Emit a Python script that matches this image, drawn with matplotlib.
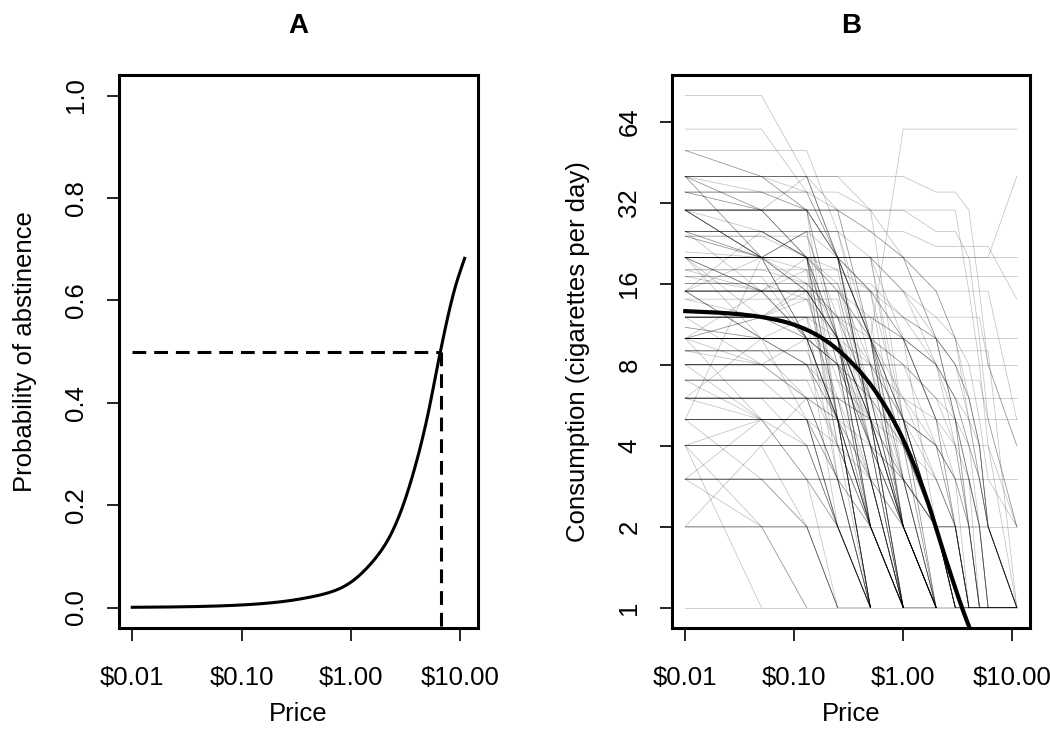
import matplotlib
matplotlib.use("Agg")
import matplotlib.pyplot as plt
import numpy as np

plt.rcParams['font.family'] = ['Liberation Sans', 'DejaVu Sans']

# panel A: probability of abstinence at log10(price)
logprice_a = [-2.0, -1.0, -0.456, -0.092, 0.155, 0.369, 0.553, 0.707, 0.805, 0.954, 1.041]
prob_a = [0.0005, 0.005, 0.017, 0.038, 0.079, 0.144, 0.249, 0.379, 0.485, 0.625, 0.682]
p50_price = 6.74

# panel B: fitted demand curve
price_fit = [0.01, 0.0178, 0.0316, 0.0562, 0.1, 0.178, 0.316, 0.562, 1.0, 1.585,
             2.512, 3.548, 4.467]
q_fit = [12.64, 12.51, 12.3, 11.92, 11.24, 10.06, 8.34, 6.32, 4.2, 2.64, 1.47,
         0.97, 0.76]

# purchase-task prices and individual responses (missing tail = 0, not drawn on log axis)
prices = [0.01, 0.05, 0.13, 0.25, 0.5, 1, 2, 3, 4, 5, 6, 11]
responses = [
    [80, 80, 40, 20, 10, 5, 2, 1],
    [60, 60, 35, 20, 10, 4, 2, 1],
    [50, 50, 50, 25, 10, 5, 2, 1],
    [40, 40, 40, 40, 40, 40, 35, 35, 30, 15, 8, 4],
    [35, 35, 35, 35, 30, 30, 25, 25, 20, 10, 5, 2],
    [30, 30, 30, 30, 30, 30, 30, 30, 15, 8, 4, 2],
    [25, 25, 25, 25, 25, 25, 22, 22, 22, 22, 22, 14],
    [20, 20, 20, 15, 10, 60, 60, 60, 60, 60, 60, 60],
    [30, 25, 20, 20, 20, 20, 20, 20, 20, 20, 20, 40],
    [20, 20, 20, 20, 20, 20, 20, 20, 20, 20, 20, 20],
    [17, 17, 17, 17, 17, 17, 17, 17, 17, 17, 17, 17],
    [15, 15, 15, 15, 15, 15, 15, 15, 15, 15, 15, 5],
    [12, 12, 12, 12, 12, 12, 12, 12, 12, 12, 8, 4],
    [10, 10, 10, 10, 10, 10, 10, 10, 10, 10, 10, 10],
    [8, 8, 8, 8, 8, 8, 8, 8, 8, 8, 8, 8],
    [5, 5, 5, 5, 5, 5, 5, 5, 5, 5, 5, 5],
    [3, 3, 3, 3, 3, 3, 3, 3, 3, 3, 3, 3],
    [2, 2, 2, 2, 2, 2, 2, 2, 2, 2, 2, 2],
    [1, 1, 1, 1, 1, 1, 1, 1, 1, 1, 1, 1],
    [4, 4, 4, 4, 4, 4, 4, 4, 4, 4, 4, 1],
    [6, 6, 6, 6, 6, 6, 6, 6, 6, 6, 6, 6],
    [9, 9, 9, 9, 9, 9, 9, 9, 9, 9, 9, 1],
    [7, 7, 7, 7, 7, 7, 7, 7, 7, 7, 5, 2],
    # steep drops between $0.13 and $1
    [50, 40, 40, 20, 5, 2],
    [40, 40, 40, 20, 5, 1],
    [40, 40, 30, 10, 2, 1],
    [40, 20, 20, 5, 1],
    [35, 35, 30, 30, 10, 2, 1],
    [35, 30, 20, 5, 1],
    [30, 30, 30, 20, 5, 1],
    [30, 30, 30, 10, 3, 1],
    [30, 20, 20, 20, 10, 2],
    [30, 30, 20, 20, 20, 5, 1],
    [25, 25, 25, 10, 5, 1],
    [25, 25, 20, 20, 5, 2, 1],
    [25, 20, 10, 10, 2],
    [24, 24, 24, 12, 4, 1],
    [20, 20, 20, 20, 5, 1],
    [20, 20, 20, 10, 2],
    [20, 20, 20, 5, 1],
    [20, 20, 10, 5, 1],
    [20, 15, 15, 15, 5, 2, 1],
    [20, 20, 20, 20, 20, 10, 2, 1],
    [20, 20, 20, 10, 10, 3, 1],
    [18, 18, 18, 10, 3, 1],
    [18, 15, 15, 5, 2],
    [17, 17, 10, 10, 5, 1],
    [16, 16, 16, 16, 8, 2, 1],
    [15, 15, 15, 10, 2, 1],
    [15, 15, 15, 15, 5, 1],
    [15, 15, 10, 5, 1],
    [15, 15, 15, 10, 10, 5, 2, 1],
    [15, 10, 10, 10, 3, 1],
    [14, 14, 14, 7, 3, 1],
    [12, 12, 12, 10, 3, 1],
    [12, 12, 12, 6, 2],
    [12, 12, 10, 5, 2, 1],
    [12, 12, 12, 12, 6, 2, 1],
    [11, 10, 10, 5, 2],
    [10, 10, 10, 10, 3, 1],
    [10, 10, 10, 5, 1],
    [10, 10, 10, 10, 10, 4, 1],
    [10, 10, 8, 5, 2, 1],
    [10, 10, 5, 2, 1],
    [10, 10, 10, 8, 4, 2, 1, 1],
    [9, 9, 9, 5, 2, 1],
    [9, 9, 6, 3, 1],
    [8, 8, 8, 8, 4, 1],
    [8, 8, 8, 4, 2, 1],
    [8, 8, 6, 3, 1],
    [8, 8, 8, 8, 8, 3, 1],
    [7, 7, 7, 4, 2, 1],
    [7, 7, 5, 2, 1],
    [6, 6, 6, 3, 1],
    [6, 6, 6, 6, 3, 1],
    [6, 6, 4, 2, 1],
    [5, 5, 5, 5, 2, 1],
    [5, 5, 5, 2, 1],
    [5, 5, 3, 1],
    [5, 5, 5, 5, 5, 2, 1],
    [4, 4, 4, 2, 1],
    [4, 4, 4, 4, 2, 1, 1],
    [4, 4, 2, 1],
    [3, 3, 3, 3, 1],
    [3, 3, 2, 1],
    [3, 3, 3, 2, 2, 1],
    [2, 2, 2, 2, 1],
    [2, 2, 1],
    [30, 30, 30, 5, 1],
    [30, 20, 25, 5, 1],
    [15, 25, 20, 3, 1],
    [20, 12, 16, 4],
    [30, 30, 20, 8, 2, 1],
    [25, 15, 20, 8, 2],
    [10, 15, 18, 4, 1],
    [15, 10, 12, 3],
    [10, 10, 10, 2],
    [30, 20, 25, 25, 8, 2, 1],
    [15, 20, 25, 20, 6, 2],
    [24, 20, 18, 18, 5],
    [10, 12, 14, 14, 4, 1],
    [12, 8, 10, 10, 4, 1],
    [6, 10, 8, 8, 2],
    [6, 6, 6, 6, 2, 1],
    [40, 30, 30, 30, 30, 5, 1],
    [20, 20, 20, 20, 20, 4, 1],
    [20, 15, 15, 15, 15, 3, 1],
    [10, 12, 15, 12, 12, 2],
    [10, 10, 10, 10, 10, 2, 1],
    [25, 20, 20, 20, 15, 5, 2, 1],
    [35, 35, 35, 20, 10, 3, 1],
    [40, 40, 40, 30, 10, 2],
    [16, 16, 14, 10, 4, 2, 1],
    [12, 12, 11, 8, 4, 2, 1],
    [9, 9, 9, 9, 4, 2, 1],
    [7, 7, 7, 7, 5, 2, 1],
    [18, 18, 16, 12, 6, 2, 1],
    [24, 24, 20, 16, 6, 2],
    # slower declines reaching low values past $1
    [20, 20, 20, 20, 20, 20, 10, 5, 2, 1],
    [15, 15, 15, 15, 15, 15, 10, 5, 3, 1, 1],
    [12, 12, 12, 12, 12, 10, 5, 2, 1],
    [10, 10, 10, 10, 10, 10, 5, 3, 1, 1, 1],
    [10, 10, 10, 10, 10, 8, 4, 2, 1],
    [8, 8, 8, 8, 8, 8, 6, 4, 2, 1, 1, 1],
    [6, 6, 6, 6, 6, 6, 4, 2, 1],
    [20, 20, 20, 20, 15, 10, 5, 2, 1, 1, 1, 1],
    [25, 25, 25, 25, 20, 15, 8, 4, 2, 1],
    [30, 30, 30, 30, 25, 20, 10, 5, 3, 2, 1, 1],
    [16, 16, 16, 16, 16, 12, 8, 5, 3, 2, 1],
    [12, 12, 12, 12, 10, 10, 8, 6, 4, 2, 1, 1],
    [5, 5, 5, 5, 5, 5, 4, 3, 2, 1, 1],
    [4, 4, 4, 4, 4, 3, 2, 2, 1, 1, 1, 1],
    [3, 3, 3, 3, 3, 3, 2, 2, 2, 1, 1, 1],
    [20, 20, 20, 18, 15, 12, 10, 8, 6, 4, 2, 1],
    [15, 15, 15, 15, 12, 10, 8, 6, 4, 3, 2, 1],
    [10, 10, 10, 10, 10, 8, 6, 5, 4, 3, 2, 1],
    [8, 8, 8, 8, 8, 6, 5, 4, 3, 2, 1, 1],
    [6, 6, 6, 6, 5, 5, 4, 3, 3, 2, 2, 1],
    [40, 40, 35, 30, 25, 20, 15, 10, 6, 4, 2, 1],
    [25, 25, 20, 20, 20, 15, 12, 10, 8, 5, 3, 2],
    [12, 12, 12, 12, 12, 12, 10, 8, 6, 4, 2, 1],
    [10, 10, 10, 10, 10, 10, 10, 8, 5, 3, 2, 1],
    # fanning from the left edge
    [50, 40, 30, 20, 10, 6, 3, 2, 1],
    [40, 30, 40, 40, 30, 20, 15, 10, 5, 3, 2, 1],
    [40, 35, 30, 20, 15, 10, 8, 6, 5, 4, 2, 1],
    [40, 20, 20, 10, 5, 2, 1],
    [30, 20, 20, 15, 10, 10, 5, 5, 2, 1],
    [24, 20, 15, 10, 8, 5, 3, 2, 1, 1, 1, 1],
    [20, 15, 10, 10, 5, 5, 2, 2, 1, 1],
    [20, 10, 10, 5, 3, 1],
    [17, 15, 10, 8, 6, 4, 2, 1, 1],
    [15, 10, 10, 10, 5, 5, 4, 3, 2, 2, 1, 1],
    [11, 10, 8, 6, 5, 4, 3, 2, 1, 1],
    [10, 8, 6, 5, 4, 3, 2, 1, 1, 1],
    [10, 5, 5, 2, 1],
    [9, 8, 8, 5, 5, 3, 2, 1, 1],
    [8, 5, 4, 2, 1],
    [7, 5, 5, 3, 2, 1, 1],
    [6, 5, 3, 2, 1],
    [5, 3, 2, 1],
    [4, 2, 2, 1, 1],
    [3, 5, 5, 3, 2, 1],
    [2, 4, 6, 5, 3, 2, 1],
    [5, 20, 15, 10, 5, 2, 1],
    [4, 5, 5, 4, 3, 2, 1],
    [3, 2, 1],
    [4, 1],
    [20, 20, 10, 8, 5, 3, 2, 1, 1, 1, 1, 1],
    [30, 20, 15, 10, 6, 3, 1],
    [21, 20, 16, 12, 8, 5, 2, 1],
    [35, 30, 30, 20, 10, 5, 2],
    [14, 12, 10, 8, 6, 4, 2, 1],
]

x_ticks = [0.01, 0.1, 1, 10]
x_ticklabels = ['$0.01', '$0.10', '$1.00', '$10.00']
y_ticks_a = [0, 0.2, 0.4, 0.6, 0.8, 1.0]
y_ticks_b = [1, 2, 4, 8, 16, 32, 64]

fs = 18.5
# R-style 4% extension on log axes
lx0, lx1 = np.log10(0.01), np.log10(11)
ext = 0.04 * (lx1 - lx0)
xlim = (10 ** (lx0 - ext), 10 ** (lx1 + ext))
ly1 = np.log2(80)
ylim_b = (2 ** (-0.04 * ly1), 2 ** (ly1 * 1.04))


def smooth(x, y, n=300):
    # cubic Hermite through the read points
    x = np.asarray(x, float)
    y = np.asarray(y, float)
    m = np.gradient(y, x)
    xs = np.linspace(x[0], x[-1], n)
    i = np.clip(np.searchsorted(x, xs) - 1, 0, len(x) - 2)
    h = x[i + 1] - x[i]
    t = (xs - x[i]) / h
    h00 = 2 * t**3 - 3 * t**2 + 1
    h10 = t**3 - 2 * t**2 + t
    h01 = -2 * t**3 + 3 * t**2
    h11 = t**3 - t**2
    ys = h00 * y[i] + h10 * h * m[i] + h01 * y[i + 1] + h11 * h * m[i + 1]
    return xs, ys


def style_axes(ax):
    for s in ax.spines.values():
        s.set_linewidth(2.2)
    ax.tick_params(axis='both', length=9, width=1.2, labelsize=fs)
    ax.tick_params(axis='x', pad=18)
    ax.tick_params(axis='y', pad=13)
    ax.set_xscale('log')
    ax.set_xlim(xlim)
    ax.set_xticks(x_ticks)
    ax.set_xticklabels(x_ticklabels)
    ax.minorticks_off()
    ax.set_xlabel('Price', fontsize=fs, labelpad=9)
    for lab in ax.get_yticklabels():
        lab.set_rotation(90)
        lab.set_va('center')


fig = plt.figure(figsize=(10.5, 7.48), dpi=100)
ax1 = fig.add_axes([0.1133, 0.1604, 0.3419, 0.7393])
ax2 = fig.add_axes([0.64, 0.1604, 0.341, 0.7393])

# panel A (curve smoothed on the logit scale)
pa = np.array(prob_a)
lx, lg = smooth(logprice_a, np.log(pa / (1 - pa)))
ax1.plot(10 ** lx, 1 / (1 + np.exp(-lg)), color='black', lw=2.2)
ax1.plot([0.01, p50_price], [0.5, 0.5], color='black', lw=2.2, dashes=(4.5, 2.6))
ax1.plot([p50_price, p50_price], [0.5, -0.04], color='black', lw=2.2, dashes=(4.5, 2.6))
ax1.set_ylim(-0.04, 1.04)
ax1.set_yticks(y_ticks_a)
ax1.set_yticklabels([f'{v:.1f}' for v in y_ticks_a])
ax1.set_ylabel('Probability of abstinence', fontsize=fs, labelpad=20)
style_axes(ax1)
ax1.set_title('A', fontsize=20, fontweight='bold', pad=30)

# panel B
for r in responses:
    q = np.array(r + [0] * (len(prices) - len(r)), dtype=float)
    q[q <= 0] = np.nan
    ax2.plot(prices, q, color='black', lw=0.55, alpha=0.24)
fx, fy = smooth(np.log10(price_fit), np.log2(q_fit))
ax2.plot(10 ** fx, 2 ** fy, color='black', lw=3.0)
ax2.set_yscale('log', base=2)
ax2.set_ylim(ylim_b)
ax2.set_yticks(y_ticks_b)
ax2.set_yticklabels([str(v) for v in y_ticks_b])
ax2.set_ylabel('Consumption (cigarettes per day)', fontsize=fs, labelpad=20)
style_axes(ax2)
ax2.set_title('B', fontsize=20, fontweight='bold', pad=30)

fig.savefig('out.png', dpi=100)
